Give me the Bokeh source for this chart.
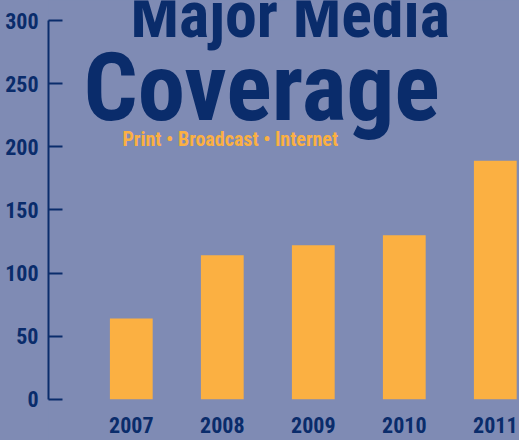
from bokeh.plotting import figure
from bokeh.models import Range1d, FixedTicker, GlobalInlineStyleSheet
from bokeh.core.properties import value
from bokeh.embed import file_html
from bokeh.resources import INLINE

# ---- data ----
years = [2007, 2008, 2009, 2010, 2011]
year_labels = ["2007", "2008", "2009", "2010", "2011"]
coverage = [64, 114, 122, 130, 189]
y_ticks = [0, 50, 100, 150, 200, 250, 300]
title_line1 = "Major Media"
title_line2 = "Coverage"
subtitle = "Print \u2022 Broadcast \u2022 Internet"

BG = "#7f8bb4"
NAVY = "#0a2c6b"
ORANGE = "#fbb042"
FONT = "Roboto Condensed"

W, H = 519, 440
LEFT = 48            # frame left edge (px)
ZERO_PX = 398.7      # pixel row of value 0
PX_PER_UNIT = 1.262  # vertical pixels per unit
PX_PER_YEAR = 91.0
FIRST_CENTER = 130.8
BASE_SHIFT = 0.33    # rendered baseline sits this many em below the anchor

x0 = years[0] - (FIRST_CENTER - LEFT) / PX_PER_YEAR
x1 = x0 + (W - LEFT) / PX_PER_YEAR
y0 = -(H - ZERO_PX) / PX_PER_UNIT
y1 = ZERO_PX / PX_PER_UNIT


def dx(px):
    return x0 + (px - LEFT) / PX_PER_YEAR


def dy_base(py, size):
    # data y so that the rendered text baseline lands on pixel row py
    return (ZERO_PX - (py - BASE_SHIFT * size)) / PX_PER_UNIT


p = figure(width=W, height=H, output_backend="svg", toolbar_location=None,
           x_range=Range1d(x0, x1), y_range=Range1d(y0, y1),
           min_border_left=LEFT, min_border_right=0, min_border_top=0, min_border_bottom=0)
p.stylesheets = [GlobalInlineStyleSheet(css="body { background-color: %s; }" % BG)]
p.background_fill_color = BG
p.border_fill_color = BG
p.outline_line_color = None
p.grid.visible = False
p.xaxis.visible = False

p.vbar(x=years, top=coverage, width=0.47, color=ORANGE, line_color=None)

# y axis
ya = p.yaxis[0]
ya.ticker = FixedTicker(ticks=y_ticks)
ya.bounds = (0, 300)
ya.axis_line_color = NAVY
ya.axis_line_width = 2
ya.major_tick_line_color = NAVY
ya.major_tick_line_width = 2
ya.major_tick_in = 14
ya.major_tick_out = 0
ya.minor_tick_line_color = None
ya.major_label_text_font = FONT
ya.major_label_text_font_style = "bold"
ya.major_label_text_font_size = "22px"
ya.major_label_text_color = NAVY
ya.major_label_standoff = 10

# year labels under the bars
p.text(x=years, y=[dy_base(432, 22)] * len(years), text=year_labels,
       text_font=value(FONT), text_font_style="bold", text_font_size="22px",
       text_color=NAVY, text_align="center", text_baseline="alphabetic")

# titles
p.text(x=[dx(130)], y=[dy_base(36, 64)], text=[title_line1],
       text_font=value(FONT), text_font_style="bold", text_font_size="64px",
       text_color=NAVY, text_align="left", text_baseline="alphabetic")
p.text(x=[dx(83)], y=[dy_base(118, 95)], text=[title_line2],
       text_font=value(FONT), text_font_style="bold", text_font_size="95px",
       text_color=NAVY, text_align="left", text_baseline="alphabetic")
p.text(x=[dx(122)], y=[dy_base(145, 20)], text=[subtitle],
       text_font=value(FONT), text_font_style="bold", text_font_size="20px",
       text_color=ORANGE, text_align="left", text_baseline="alphabetic")

open("out.html", "w").write(file_html(p, INLINE))
